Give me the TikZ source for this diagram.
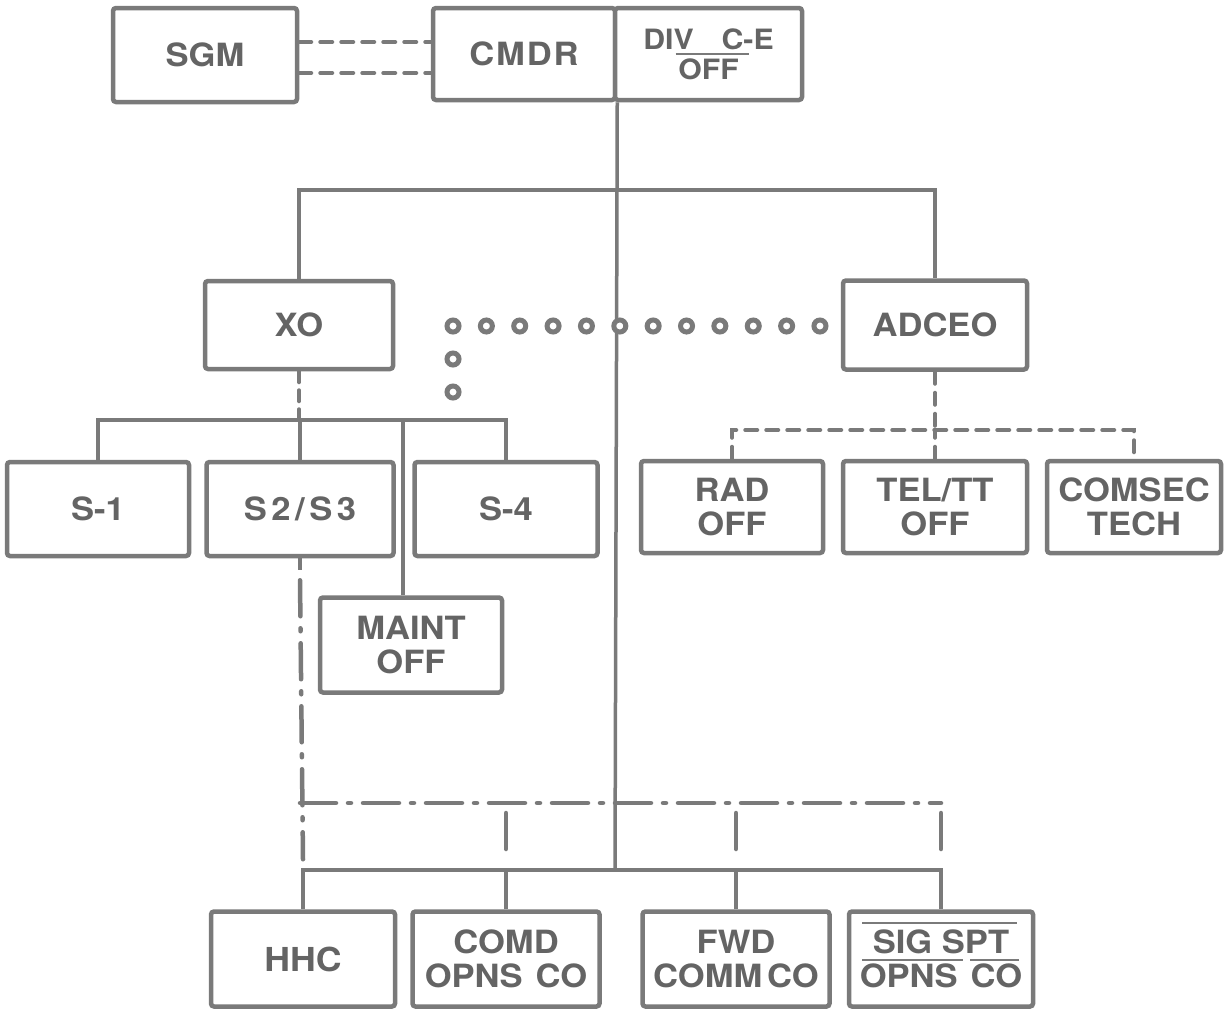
\documentclass[tikz,border=0pt]{standalone}
\usepackage{fontspec}
\setmainfont{TeX Gyre Heros}[FakeStretch=1.08]
\usetikzlibrary{calc}
\definecolor{ink}{RGB}{122,122,122}
\definecolor{txt}{RGB}{100,100,100}
\begin{document}
\begin{tikzpicture}[x=1pt,y=-1pt,
  box/.style={draw=ink, line width=4.5pt, rounded corners=3pt, fill=white, inner sep=0pt,
    align=center, text=txt, font=\fontsize{32}{34}\selectfont\bfseries},
  conn/.style={draw=ink, line width=3.5pt},
  dsh/.style={draw=ink, line width=4pt, dash pattern=on 12pt off 9pt, line cap=round},
  dashdot/.style={draw=ink, line width=4.5pt, dash pattern=on 36pt off 12pt on 3pt off 12pt, line cap=round},
  dotring/.style={draw=ink, line width=5pt, fill=white},
  guide/.style={draw=ink, line width=1.2pt}]
\useasboundingbox (0,0) rectangle (1225,1015);
% top row
\node[box, minimum width=184pt, minimum height=94pt] (sgm) at (205,55) {SGM};
\node[box, minimum width=182pt, minimum height=92pt] (cmdr) at (524,54) {\addfontfeature{LetterSpace=6}CMDR};
\node[box, minimum width=187pt, minimum height=92pt, font=\fontsize{28}{30}\selectfont\bfseries] (div) at (708.5,54) {DIV\hspace{1em}C-E\\OFF};
% second row
\node[box, minimum width=188pt, minimum height=88pt] (xo) at (299,325) {XO};
\node[box, minimum width=184pt, minimum height=89pt] (adceo) at (935,325) {ADCEO};
% staff
\node[box, minimum width=182pt, minimum height=94pt] (s1) at (98,509) {S-1};
\node[box, minimum width=187pt, minimum height=94pt] (s23) at (300,509) {\addfontfeature{LetterSpace=14}S2/S3};
\node[box, minimum width=183pt, minimum height=94pt] (s4) at (506,509) {S-4};
\node[box, minimum width=182pt, minimum height=95pt] (maint) at (411,645) {MAINT\\OFF};
% ADCEO sections
\node[box, minimum width=182pt, minimum height=92pt] (rad) at (732,507) {RAD\\OFF};
\node[box, minimum width=184pt, minimum height=92pt] (tel) at (935,507) {TEL/TT\\OFF};
\node[box, minimum width=174pt, minimum height=92pt] (comsec) at (1134,507) {COMSEC\\TECH};
% companies
\node[box, minimum width=184pt, minimum height=95pt, font=\fontsize{33}{34}\selectfont\bfseries] (hhc) at (303,959) {HHC};
\node[box, minimum width=187pt, minimum height=95pt] (comd) at (506,959) {COMD\\OPNS\hspace{0.4em}CO};
\node[box, minimum width=187pt, minimum height=95pt] (fwd) at (736,959) {FWD\\COMM\hspace{0.15em}CO};
\node[box, minimum width=184pt, minimum height=95pt] (sig) at (941,959) {SIG SPT\\OPNS\hspace{0.4em}CO};

% guide lines of the lettering
\draw[guide] ($(div.center)+(-33,0)$) -- ($(div.center)+(40,0)$);
\draw[guide] ($(sig.center)+(-79,-36)$) -- ($(sig.center)+(76,-36)$);
\draw[guide] ($(sig.center)+(-79,1)$) -- ($(sig.center)+(22,1)$);
\draw[guide] ($(sig.center)+(29,1)$) -- ($(sig.center)+(78,1)$);

% SGM staff link
\draw[dsh] ($(sgm.east)+(0,-13)$) -- ($(cmdr.west)+(0,-12)$);
\draw[dsh] ($(sgm.east)+(0,18)$) -- ($(cmdr.west)+(0,19)$);

% coordinates of buses
\coordinate (trunktop) at (cmdr.south east);
\coordinate (topbus) at (615,190);
\coordinate (lbus) at (300,420);
\coordinate (dbus) at (935,430);
\coordinate (ddbus) at (615,803);
\coordinate (botbus) at (615,870);
\coordinate (maintdrop) at ($(maint.north)+(-8,0)$);

% command trunk
\draw[conn] (trunktop) -- (botbus);
\draw[conn] (xo.north) |- (topbus) -| (adceo.north);

% XO staff
\draw[dsh, dash pattern=on 11pt off 8pt] (xo.south) -- (xo.south |- lbus);
\draw[conn] (s1.north) |- (lbus) -| (s4.north);
\draw[conn] (s23.north) -- (s23.north |- lbus);
\draw[conn] (maintdrop) -- (maintdrop |- lbus);

% ADCEO sections
\draw[dsh] (adceo.south) -- (dbus);
\draw[dsh] (rad.north) |- (dbus) -| (comsec.north);
\draw[dsh] (tel.north) -- (dbus);

% dotted coordination line
\foreach \k in {0,...,11} {
  \draw[dotring] ({453+33.36*\k},326) circle[radius=6pt];
}
\draw[dotring] (453,359) circle[radius=6pt];
\draw[dotring] (453,392) circle[radius=6pt];

% companies (solid)
\draw[conn] (hhc.north) |- (botbus) -| (sig.north);
\draw[conn] (comd.north) -- (comd.north |- botbus);
\draw[conn] (fwd.north) -- (fwd.north |- botbus);

% dash-dot operational control
\coordinate (ddleft) at (s23.south |- ddbus);
\coordinate (ddright) at (sig.north |- ddbus);
\draw[conn] (s23.south) -- ++(0,12);
\draw[dashdot] ($(s23.south)+(0,22)$) -- ($(hhc.north)+(0,-50)$);
\draw[dashdot] (ddleft) -- (ddright);
\draw[dashdot] ($(comd.north |- ddbus)+(0,10)$) -- ($(comd.north)+(0,-50)$);
\draw[dashdot] ($(fwd.north |- ddbus)+(0,10)$) -- ($(fwd.north)+(0,-50)$);
\draw[dashdot] ($(sig.north |- ddbus)+(0,10)$) -- ($(sig.north)+(0,-50)$);
\end{tikzpicture}
\end{document}
